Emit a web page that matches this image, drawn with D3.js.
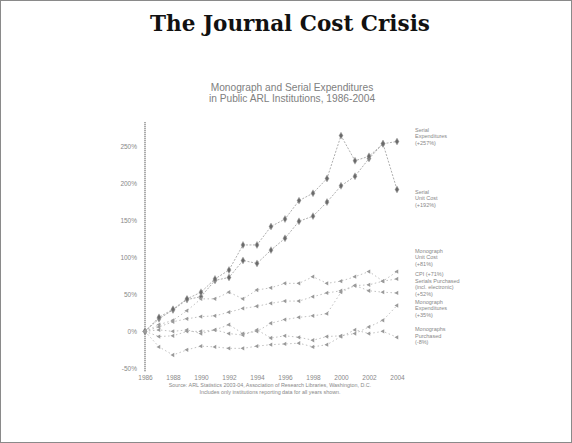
<!DOCTYPE html>
<html>
<head>
<meta charset="utf-8">
<script src="https://cdn.jsdelivr.net/npm/d3@7"></script>
<style>
html,body{margin:0;padding:0;background:#fff;}
svg{display:block;}
</style>
</head>
<body>
<svg id="chart" width="572" height="443"></svg>
<script>
// ---- data ----
const years = [1986,1987,1988,1989,1990,1991,1992,1993,1994,1995,1996,1997,1998,1999,2000,2001,2002,2003,2004];
const xTickYears = [1986,1988,1990,1992,1994,1996,1998,2000,2002,2004];
const yTicks = [-50,0,50,100,150,200,250];

const serialExpenditures = [0,17,29,43,47,69,73,96,92,110,126,149,156,175,197,210,234,254,257];
const serialUnitCost     = [0,19,30,44,53,71,83,117,117,142,152,177,187,207,265,231,237,254,192];
const monographUnitCost  = [0,9,15,28,44,44,53,44,56,59,65,65,74,65,68,74,81,68,81];
const cpi                = [0,6,13,17,20,21,26,31,34,38,41,41,47,52,55,62,63,68,71];
const serialsPurchased   = [0,-7,-6,0,0,2,9,-3,0,11,16,19,21,24,53,62,55,53,52];
const monographExpend    = [0,2,0,2,-3,2,-3,-5,2,-9,-6,-8,-12,-7,-6,-3,6,15,35];
const monographsPurch    = [0,-21,-32,-25,-20,-21,-23,-23,-20,-18,-17,-16,-21,-18,-7,2,-3,0,-8];

const seriesNames = ["Serial Expenditures","Serial Unit Cost","Monograph Unit Cost","CPI","Serials Purchased","Monograph Expenditures","Monographs Purchased"];
const seriesValues = [serialExpenditures, serialUnitCost, monographUnitCost, cpi, serialsPurchased, monographExpend, monographsPurch];
const labelLines = [
  ["Serial","Expenditures","(+257%)"],
  ["Serial","Unit Cost","(+192%)"],
  ["Monograph","Unit Cost","(+81%)"],
  ["CPI (+71%)"],
  ["Serials Purchased","(incl. electronic)","(+52%)"],
  ["Monograph","Expenditures","(+35%)"],
  ["Monographs","Purchased","(-8%)"]
];

const mainTitle = "The Journal Cost Crisis";
const chartTitle = ["Monograph and Serial Expenditures","in Public ARL Institutions, 1986-2004"];
const sourceNote = ["Source: ARL Statistics 2003-04, Association of Research Libraries, Washington, D.C.",
                    "Includes only institutions reporting data for all years shown."];

// ---- drawing ----
const svg = d3.select("#chart");
const W = 572, H = 443;

svg.append("rect").attr("x",0.5).attr("y",0.5).attr("width",W-1).attr("height",H-1)
  .attr("fill","#fff").attr("stroke","#8a8a8a").attr("stroke-width",1);

svg.append("text").attr("x",290).attr("y",31).attr("text-anchor","middle")
  .attr("font-family","'DejaVu Serif', serif").attr("font-weight","bold")
  .attr("font-size",23).attr("textLength",280).attr("lengthAdjust","spacingAndGlyphs")
  .attr("fill","#111").text(mainTitle);

svg.append("g").selectAll("text").data(chartTitle).join("text")
  .attr("x",292).attr("y",(d,i)=>91+i*10.5).attr("text-anchor","middle")
  .attr("font-family","'Liberation Sans', Arial, sans-serif").attr("font-size",10.2)
  .attr("fill","#808080").text(d=>d);

const x = d3.scaleLinear().domain([1986,2004]).range([145,397]);
const y = d3.scaleLinear().domain([-50,250]).range([368.3,146.7]);

// y axis line (dotted)
svg.append("line").attr("x1",x(1986)).attr("x2",x(1986))
  .attr("y1",y(283)).attr("y2",y(-55))
  .attr("stroke","#555").attr("stroke-width",1.3).attr("stroke-dasharray","1,1");

const yAxis = d3.axisLeft(y).tickValues(yTicks).tickSize(0).tickPadding(8)
  .tickFormat(d=>d+"%");
const gy = svg.append("g").attr("transform",`translate(${x(1986)},0)`).call(yAxis);
gy.select(".domain").remove();
gy.selectAll("text").attr("font-family","'Liberation Sans', Arial, sans-serif")
  .attr("font-size",6.5).attr("fill","#888");

const xAxis = d3.axisBottom(x).tickValues(xTickYears).tickSize(0).tickPadding(0)
  .tickFormat(d3.format("d"));
const gx = svg.append("g").attr("transform",`translate(0,375)`).call(xAxis);
gx.select(".domain").remove();
gx.selectAll("text").attr("font-family","'Liberation Sans', Arial, sans-serif")
  .attr("font-size",6.5).attr("fill","#888").attr("dy","0.71em");

// series
const line = d3.line().x((d,i)=>x(years[i])).y(d=>y(d));
const symbols = [d3.symbolDiamond, d3.symbolDiamond, d3.symbolTriangle, d3.symbolTriangle, d3.symbolTriangle, d3.symbolTriangle, d3.symbolTriangle];
const gs = svg.append("g");
seriesValues.forEach((vals,k)=>{
  const top = k < 2;
  gs.append("path").datum(vals).attr("d",line).attr("fill","none")
    .attr("stroke", top ? "#999" : "#b0b0b0").attr("stroke-width",0.8)
    .attr("stroke-dasharray", top ? "2,1.5" : "1.5,2.5");
  gs.append("g").selectAll("path").data(vals).join("path")
    .attr("transform",(d,i)=>`translate(${x(years[i])},${y(d)}) rotate(${top?0:-90})`)
    .attr("d", d3.symbol().type(symbols[k]).size(top ? 14 : 8))
    .attr("fill", top ? "#6a6a6a" : "#9a9a9a").attr("stroke", top ? "#aaa" : "none").attr("stroke-width",0.5);
});

// labels to right
const labelOffsets = [-12, 2, -21, -5, -12, -4, -8];
const gl = svg.append("g");
seriesValues.forEach((vals,k)=>{
  const y0 = y(vals[vals.length-1]) + labelOffsets[k];
  gl.append("g").selectAll("text").data(labelLines[k]).join("text")
    .attr("x",415).attr("y",(d,i)=>y0 + i*6.5 + 2)
    .attr("font-family","'Liberation Sans', Arial, sans-serif").attr("font-size",5.5)
    .attr("fill","#888").text(d=>d);
});

// source note
svg.append("g").selectAll("text").data(sourceNote).join("text")
  .attr("x",270).attr("y",(d,i)=>387+i*7).attr("text-anchor","middle")
  .attr("font-family","'Liberation Sans', Arial, sans-serif").attr("font-size",5.4)
  .attr("fill","#888").text(d=>d);
</script>
</body>
</html>
